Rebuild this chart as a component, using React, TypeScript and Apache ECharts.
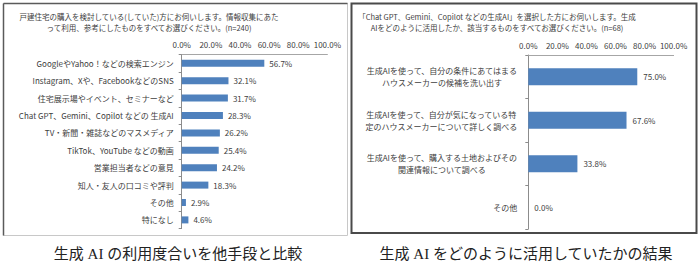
import React, { useEffect, useRef } from "react";
import * as echarts from "echarts";

const leftTitle = "戸建住宅の購入を検討している(していた)方にお伺いします。情報収集にあた\nって利用、参考にしたものをすべてお選びください。(n=240)";
const rightTitle = "「Chat GPT、Gemini、Copilot などの生成AI」を選択した方にお伺いします。生成\nAIをどのように活用したか、該当するものをすべてお選びください。(n=68)";

const leftCategories = [
  "GoogleやYahoo！などの検索エンジン",
  "Instagram、Xや、FacebookなどのSNS",
  "住宅展示場やイベント、セミナーなど",
  "Chat GPT、Gemini、Copilot などの 生成AI",
  "TV・新聞・雑誌などのマスメディア",
  "TikTok、YouTube などの動画",
  "営業担当者などの意見",
  "知人・友人の口コミや評判",
  "その他",
  "特になし",
];
const leftValues = [56.7, 32.1, 31.7, 28.3, 26.2, 25.4, 24.2, 18.3, 2.9, 4.6];

const rightCategories = [
  "生成AIを使って、自分の条件にあてはまる\nハウスメーカーの候補を洗い出す",
  "生成AIを使って、自分が気になっている特\n定のハウスメーカーについて詳しく調べる",
  "生成AIを使って、購入する土地およびその\n関連情報について調べる",
  "その他",
];
const rightValues = [75.0, 67.6, 33.8, 0.0];

const leftCaption = "生成 AI の利用度合いを他手段と比較";
const rightCaption = "生成 AI をどのように活用していたかの結果";

const FONT = '"Noto Sans CJK JP", "Noto Sans", sans-serif';
const SERIF = '"Liberation Serif", "Noto Sans CJK JP", serif';
const TEXT = "#404040";
const BAR = "#4F81BD";

function valueAxis(gridIndex: number) {
  return {
    gridIndex,
    type: "value" as const,
    position: "top" as const,
    min: 0,
    max: 100,
    interval: 20,
    axisLine: { show: true, lineStyle: { color: "#a6a6a6", width: 1 } },
    axisTick: { show: false },
    splitLine: { show: false },
    axisLabel: {
      margin: 6,
      fontSize: 8,
      color: TEXT,
      fontFamily: FONT,
      formatter: (v: number) => v.toFixed(1) + "%",
    },
  };
}

function catAxis(gridIndex: number, data: string[], margin: number, rich: boolean) {
  return {
    gridIndex,
    type: "category" as const,
    inverse: true,
    data,
    axisLine: { show: true, lineStyle: { color: "#8c8c8c", width: 1 } },
    axisTick: { show: true, length: 3, lineStyle: { color: "#8c8c8c" } },
    axisLabel: {
      margin,
      fontSize: 8,
      color: TEXT,
      fontFamily: FONT,
      interval: 0,
      lineHeight: 12,
      formatter: rich
        ? (v: string) =>
            v.includes("\n")
              ? v
                  .split("\n")
                  .map((l) => `{c|${l}}`)
                  .join("\n")
              : v
        : undefined,
      rich: rich
        ? { c: { align: "center", fontSize: 8, color: TEXT, fontFamily: FONT, lineHeight: 12 } }
        : undefined,
    },
  };
}

function barSeries(idx: number, data: number[], barWidth: number, dist: number) {
  return {
    type: "bar" as const,
    xAxisIndex: idx,
    yAxisIndex: idx,
    data,
    barWidth,
    itemStyle: { color: BAR },
    label: {
      show: true,
      position: "right" as const,
      distance: dist,
      fontSize: 8,
      color: TEXT,
      fontFamily: FONT,
      formatter: (p: any) => Number(p.value).toFixed(1) + "%",
    },
  };
}

export default function App() {
  const ref = useRef<HTMLDivElement>(null);
  useEffect(() => {
    document.body.style.margin = "0";
    if (!ref.current) return;
    const chart = echarts.init(ref.current, null, { renderer: "svg" });
    chart.setOption({
      animation: false,
      backgroundColor: "#ffffff",
      grid: [
        { left: 181.7, top: 54.6, width: 145.7, height: 174, containLabel: false },
        { left: 528.3, top: 55, width: 145.3, height: 174, containLabel: false },
      ],
      xAxis: [valueAxis(0), valueAxis(1)],
      yAxis: [catAxis(0, leftCategories, 8, false), catAxis(1, rightCategories, 11, true)],
      series: [barSeries(0, leftValues, 7, 5), barSeries(1, rightValues, 17, 6)],
      graphic: [
        // left panel border
        { type: "rect", shape: { x: 3.5, y: 3.5, width: 344, height: 232 }, style: { fill: "none", stroke: "#c8c8c8", lineWidth: 1 }, z: 0 },
        { type: "line", shape: { x1: 3.5, y1: 3.5, x2: 347.5, y2: 3.5 }, style: { stroke: "#5a5a5a", lineWidth: 1.5 } },
        { type: "line", shape: { x1: 3.5, y1: 3.5, x2: 3.5, y2: 235.5 }, style: { stroke: "#5a5a5a", lineWidth: 1.5 } },
        // right panel border
        { type: "rect", shape: { x: 351.5, y: 3.5, width: 345, height: 229.5 }, style: { fill: "none", stroke: "#4a4a4a", lineWidth: 2 } },
        {
          type: "text",
          x: 149,
          y: 11,
          style: { text: leftTitle, fontSize: 7.5, fill: TEXT, fontFamily: FONT, align: "center", lineHeight: 11 },
        },
        {
          type: "text",
          x: 497,
          y: 11,
          style: { text: rightTitle, fontSize: 7.5, fill: TEXT, fontFamily: FONT, align: "center", lineHeight: 11 },
        },
        {
          type: "text",
          x: 178,
          y: 254,
          style: { text: leftCaption, fontSize: 15, fill: "#222222", fontFamily: SERIF, align: "center", verticalAlign: "middle" },
        },
        {
          type: "text",
          x: 526,
          y: 254,
          style: { text: rightCaption, fontSize: 15, fill: "#222222", fontFamily: SERIF, align: "center", verticalAlign: "middle" },
        },
      ],
    });
    return () => chart.dispose();
  }, []);
  return <div ref={ref} style={{ width: 700, height: 269, position: "absolute", left: 0, top: 0 }} />;
}
